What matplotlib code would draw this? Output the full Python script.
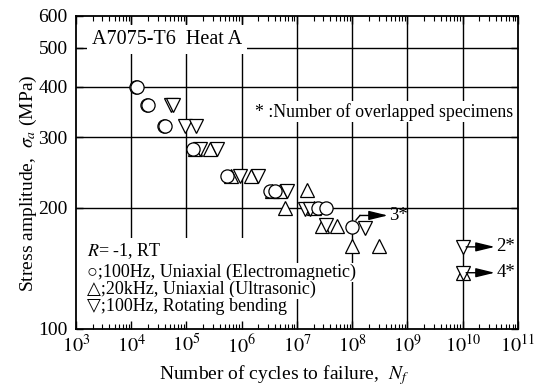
import numpy as np
import matplotlib
matplotlib.use('Agg')
import matplotlib.pyplot as plt
from matplotlib.ticker import FixedLocator, LogLocator, NullLocator, NullFormatter
from matplotlib.patches import Rectangle

plt.rcParams['font.family'] = ['Liberation Serif', 'DejaVu Sans']
plt.rcParams['mathtext.fontset'] = 'stix'

# 100Hz, uniaxial (electromagnetic)
circ_n = [1.2e4, 1.27e4, 1.95e4, 2.05e4, 3.9e4, 4.1e4, 1.3e5, 5.3e5,
          3.2e6, 4.0e6, 2.4e7, 3.4e7]
circ_s = [400, 400, 360, 360, 320, 320, 280, 240,
          220, 220, 200, 200]
circ_run_n = [1.0e8]
circ_run_s = [179]
circ_run_lbl = ['3*']

# 20kHz, uniaxial (ultrasonic)
up_n = [1.4e5, 2.7e5, 6.3e5, 1.5e6, 3.5e6, 4.9e6, 6.1e6, 1.5e7,
        2.0e7, 2.8e7, 5.2e7, 1.0e8, 3.0e8]
up_s = [280, 280, 240, 240, 220, 220, 200, 221,
        200, 180, 180, 161, 161]
up_run_n = [1.0e10]
up_run_s = [138]

# 100Hz, rotating bending
dn_n = [5.2e4, 5.6e4, 9.4e4, 1.5e5, 1.75e5, 3.6e5, 9.3e5, 2.0e6,
        6.5e6, 1.4e7, 1.7e7, 3.4e7, 1.7e8]
dn_s = [360, 360, 320, 320, 280, 280, 240, 240,
        220, 199, 199, 181, 178]
dn_run_n = [1.0e10, 1.0e10]
dn_run_s = [160, 138]
dn_run_lbl = ['2*', '4*']

x_ticks = [1e3, 1e4, 1e5, 1e6, 1e7, 1e8, 1e9, 1e10, 1e11]
x_labels = ['$10^{%d}$' % int(np.log10(v)) for v in x_ticks]
y_ticks = [100, 200, 300, 400, 500, 600]
y_grid = [200, 300, 400, 500]

fig = plt.figure(figsize=(5.42, 3.87), dpi=100)
ax = fig.add_axes([0.1402, 0.1499, 0.8155, 0.8088])
ax.set_xscale('log')
ax.set_yscale('log')
ax.set_xlim(1e3, 1e11)
ax.set_ylim(100, 600)
ax.set_axisbelow(False)

# grid lines drawn by hand so white boxes can hide them but not the ticks
for v in x_ticks[1:-1]:
    ax.axvline(v, color='black', lw=1.0, zorder=1)
for v in y_grid:
    ax.axhline(v, color='black', lw=1.0, zorder=1)

mk = dict(mfc='white', mec='black', mew=0.9, ls='none', zorder=3)
ax.plot(up_n, up_s, '^', ms=10.5, **mk)
ax.plot(dn_n, dn_s, 'v', ms=10.5, **mk)
ax.plot(circ_n, circ_s, 'o', ms=9.5, **mk)
ax.plot(up_run_n, up_run_s, '^', ms=10.5, **mk)
ax.plot(dn_run_n, dn_run_s, 'v', ms=10.5, **mk)
ax.plot(circ_run_n, circ_run_s, 'o', ms=9.5, **mk)

arrow = dict(arrowstyle='-|>,head_length=1.15,head_width=0.28', mutation_scale=10,
             fc='black', ec='black', lw=1.0, shrinkA=0, shrinkB=0)

# runouts at 1e10
for n, s, lbl in zip(dn_run_n, dn_run_s, dn_run_lbl):
    ax.annotate('', xy=(n * 3.8, s), xytext=(n * 1.15, s), arrowprops=arrow, zorder=4)
    ax.text(n * 4.1, s, lbl, ha='left', va='center', fontsize=13.5, zorder=4)

# runout at 1e8
for n, s, lbl in zip(circ_run_n, circ_run_s, circ_run_lbl):
    ax.plot([n * 1.17, n * 1.38], [s * 1.042, s * 1.07], color='black', lw=1.0, zorder=4)
    ax.annotate('', xy=(n * 4.4, s * 1.07), xytext=(n * 1.38, s * 1.07),
                arrowprops=arrow, zorder=4)
    ax.text(n * 4.6, s * 1.07, lbl, ha='left', va='center', fontsize=13.5, zorder=4)

# text boxes
ax.text(0.036, 0.9256, 'A7075-T6  Heat A', transform=ax.transAxes, fontsize=14.5,
        ha='left', va='center', zorder=4,
        bbox=dict(boxstyle='square,pad=0.25', fc='white', ec='none'))
ax.text(0.989, 0.694, '* :Number of overlapped specimens', transform=ax.transAxes,
        fontsize=12.8, ha='right', va='center', zorder=4,
        bbox=dict(boxstyle='square,pad=0.1', fc='white', ec='none'))

ax.add_patch(Rectangle((0.0, 0.0), 0.47, 0.29, transform=ax.transAxes,
                       fc='white', ec='none', zorder=2))
ax.text(0.025, 0.25, '$R$= -1, RT', transform=ax.transAxes, fontsize=13,
        ha='left', va='center', zorder=4)
leg_lines = ['\u25cb;100Hz, Uniaxial (Electromagnetic)',
             '\u25b3;20kHz, Uniaxial (Ultrasonic)',
             '\u25bd;100Hz, Rotating bending']
for yy, t in zip([0.18, 0.127, 0.072], leg_lines):
    ax.text(0.025, yy, t, transform=ax.transAxes, fontsize=13,
            ha='left', va='center', zorder=4,
            bbox=dict(boxstyle='square,pad=0.05', fc='white', ec='none'))

# axes and ticks
ax.xaxis.set_major_locator(FixedLocator(x_ticks))
ax.set_xticklabels(x_labels, fontsize=14.5)
ax.xaxis.set_minor_locator(LogLocator(base=10, subs=np.arange(2, 10), numticks=100))
ax.xaxis.set_minor_formatter(NullFormatter())
ax.yaxis.set_major_locator(FixedLocator(y_ticks))
ax.set_yticklabels([str(v) for v in y_ticks], fontsize=14)
ax.yaxis.set_minor_locator(NullLocator())

ax.tick_params(axis='x', which='major', direction='in', top=True, length=6, width=1, pad=4)
ax.tick_params(axis='x', which='minor', direction='in', top=True, length=3.5, width=0.8)
ax.tick_params(axis='y', which='major', direction='in', right=True, length=5, width=1, pad=6)

for sp in ax.spines.values():
    sp.set_linewidth(1.3)

ax.set_xlabel('Number of cycles to failure,  $N_f$', fontsize=14, labelpad=4)
ax.set_ylabel('Stress amplitude,  $\\sigma_a$ (MPa)', fontsize=14)
ax.xaxis.label.set_x(0.47)
ax.yaxis.set_label_coords(-0.084, 0.465)

fig.savefig('out.png', dpi=100)
